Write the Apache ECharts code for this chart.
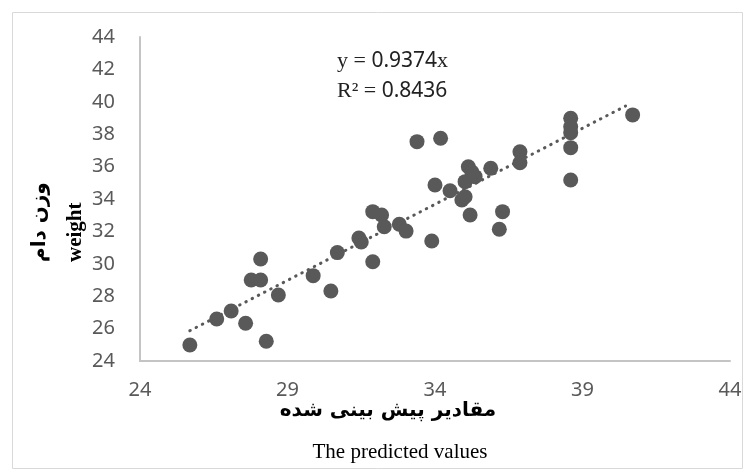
<!DOCTYPE html>
<html>
<head>
<meta charset="utf-8">
<script src="https://cdn.jsdelivr.net/npm/echarts@6/dist/echarts.min.js"></script>
<style>
  html, body { margin: 0; padding: 0; background: #fff; }
  #chart { width: 750px; height: 476px; }
</style>
</head>
<body>
<div id="chart"></div>
<script>
  const predicted = [25.69, 26.60, 27.09, 27.58, 27.77, 28.09, 28.09, 28.28, 28.69, 29.87,
    30.47, 30.69, 31.42, 31.50, 31.89, 31.89, 32.19, 32.28, 32.79, 33.02,
    33.39, 33.89, 34.00, 34.19, 34.51, 34.91, 35.02, 35.02, 35.13, 35.36,
    35.25, 35.19, 35.89, 36.29, 36.18, 36.88, 36.88, 38.60, 38.60, 38.60,
    38.60, 38.60, 40.70];
  const weight = [24.99, 26.59, 27.09, 26.33, 29.00, 29.00, 30.30, 25.22, 28.07, 29.27,
    28.32, 30.69, 31.59, 31.35, 30.13, 33.22, 33.01, 32.29, 32.44, 32.02,
    37.54, 31.41, 34.86, 37.75, 34.51, 33.94, 34.14, 35.07, 35.99, 35.38,
    35.67, 33.01, 35.90, 33.22, 32.13, 36.92, 36.24, 38.98, 38.46, 38.09,
    37.17, 35.17, 39.19];
  // dotted trend line ends as drawn
  const trendX = [25.69, 40.46];
  const trendY = [25.87, 39.74];
  const equationText = ['y = ', '0.9374', 'x'];
  const r2Text = ['R² = ', '0.8436'];

  const chart = echarts.init(document.getElementById('chart'));

  const option = {
    animation: false,
    grid: { left: 140, right: 20, top: 37, bottom: 115 },
    xAxis: {
      type: 'value',
      min: 24, max: 44, interval: 5,
      splitLine: { show: false },
      axisTick: { show: false },
      axisLine: { lineStyle: { color: '#c4c4c4', width: 2 } },
      axisLabel: { color: '#595959', fontSize: 20, fontFamily: 'Noto Sans', margin: 19 }
    },
    yAxis: {
      type: 'value',
      min: 24, max: 44, interval: 2,
      splitLine: { show: false },
      axisTick: { show: false },
      axisLine: { show: true, lineStyle: { color: '#c4c4c4', width: 2 } },
      axisLabel: { color: '#595959', fontSize: 20, fontFamily: 'Noto Sans', margin: 25 }
    },
    series: [
      {
        type: 'line',
        data: trendX.map((x, i) => [x, trendY[i]]),
        symbol: 'none',
        lineStyle: { color: '#595959', width: 3, type: [0.5, 6.5], cap: 'round' },
        z: 1
      },
      {
        type: 'scatter',
        data: predicted.map((x, i) => [x, weight[i]]),
        symbolSize: 15,
        itemStyle: { color: '#595959', opacity: 1 },
        z: 2
      }
    ],
    graphic: [
      {
        type: 'rect', left: 10, top: 10,
        shape: { width: 730, height: 456 },
        style: { fill: 'none', stroke: '#d9d9d9', lineWidth: 1 },
        silent: true
      },
      {
        type: 'text', x: 337, y: 61,
        style: {
          text: '{s|' + equationText[0] + '}{n|' + equationText[1] + '}{s|' + equationText[2] + '}',
          textVerticalAlign: 'middle',
          rich: {
            s: { fontFamily: 'Liberation Serif', fontSize: 22, fill: '#222' },
            n: { fontFamily: 'Noto Sans', fontSize: 21, fill: '#222' }
          }
        }
      },
      {
        type: 'text', x: 337, y: 91,
        style: {
          text: '{s|' + r2Text[0] + '}{n|' + r2Text[1] + '}',
          textVerticalAlign: 'middle',
          rich: {
            s: { fontFamily: 'Liberation Serif', fontSize: 22, fill: '#222' },
            n: { fontFamily: 'Noto Sans', fontSize: 21, fill: '#222' }
          }
        }
      },
      {
        type: 'text', x: 388, y: 411,
        style: {
          text: 'مقادیر پیش بینی شده',
          textAlign: 'center', textVerticalAlign: 'middle',
          fontFamily: 'DejaVu Sans', fontWeight: 'bold', fontSize: 20, fill: '#000'
        }
      },
      {
        type: 'text', x: 400, y: 452,
        style: {
          text: 'The predicted values',
          textAlign: 'center', textVerticalAlign: 'middle',
          fontFamily: 'Liberation Serif', fontSize: 21, fill: '#000'
        }
      },
      {
        type: 'text', x: 40, y: 262, rotation: Math.PI / 2,
        style: {
          text: 'وزن دام',
          textAlign: 'left', textVerticalAlign: 'middle',
          fontFamily: 'DejaVu Sans', fontWeight: 'bold', fontSize: 20, fill: '#000'
        }
      },
      {
        type: 'text', x: 76, y: 262, rotation: Math.PI / 2,
        style: {
          text: 'weight',
          textAlign: 'left', textVerticalAlign: 'middle',
          fontFamily: 'Liberation Serif', fontWeight: 'bold', fontSize: 21, fill: '#000'
        }
      }
    ]
  };

  chart.setOption(option);

  window.addEventListener('resize', function () {
    chart.resize();
  });
</script>
</body>
</html>
